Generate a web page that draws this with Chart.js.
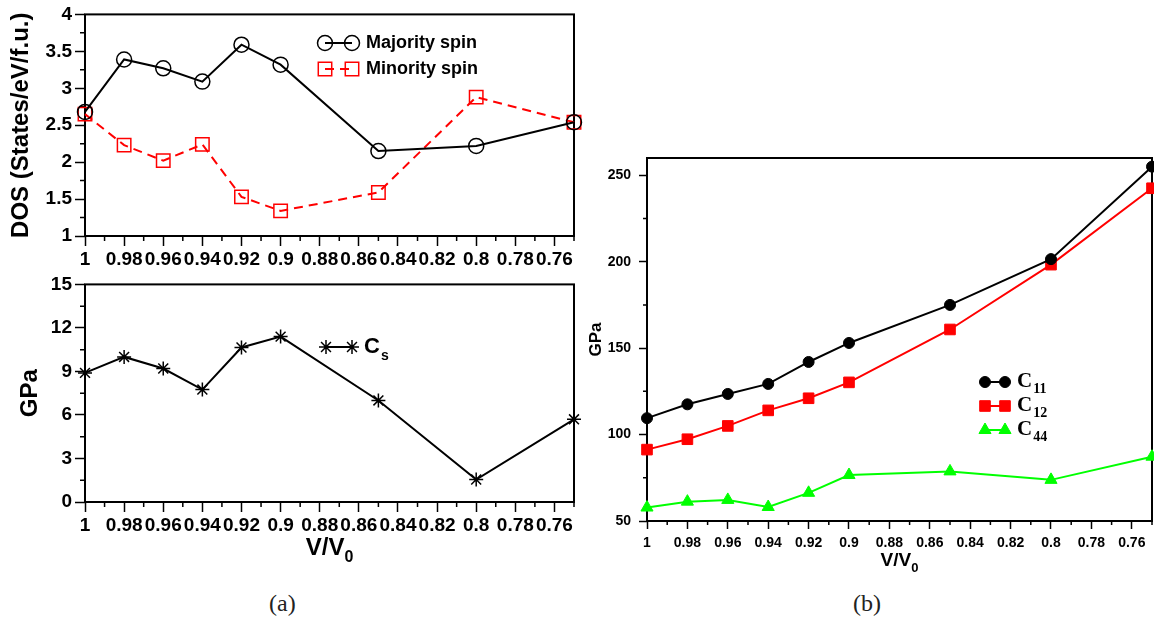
<!DOCTYPE html>
<html>
<head>
<meta charset="utf-8">
<script src="https://cdn.jsdelivr.net/npm/chart.js@4.4.1/dist/chart.umd.min.js"></script>
<style>
  body { margin: 0; background: #fff; width: 1154px; height: 630px; overflow: hidden; position: relative; }
  canvas { position: absolute; display: block; }
  .cap { position: absolute; font-family: 'Liberation Serif', serif; font-size: 24px; color: #222; }
</style>
</head>
<body>
<canvas id="dosChart" width="600" height="270" style="left:0;top:0"></canvas>
<canvas id="csChart" width="600" height="300" style="left:0;top:270px"></canvas>
<canvas id="elasticChart" width="600" height="440" style="left:580px;top:140px"></canvas>
<div class="cap" style="left:269px;top:590px">(a)</div>
<div class="cap" style="left:853px;top:590px">(b)</div>
<script>
// V/V0 values where the calculations were done
const volume = [1, 0.98, 0.96, 0.94, 0.92, 0.90, 0.85, 0.80, 0.75];
const xTicks = [1, 0.98, 0.96, 0.94, 0.92, 0.90, 0.88, 0.86, 0.84, 0.82, 0.80, 0.78, 0.76];

// (a) top: density of states at E_F
const dosMajority = [2.68, 3.39, 3.27, 3.09, 3.59, 3.32, 2.15, 2.22, 2.54];
const dosMinority = [2.65, 2.23, 2.02, 2.24, 1.53, 1.34, 1.59, 2.88, 2.54];
const dosTicks = [1, 1.5, 2, 2.5, 3, 3.5, 4];

// (a) bottom: shear modulus Cs
const shearCs = [8.9, 10.0, 9.2, 7.75, 10.65, 11.4, 7.0, 1.55, 5.7];
const csTicks = [0, 3, 6, 9, 12, 15];

// (b) elastic constants
const c11 = [109.5, 117.5, 123.5, 129.3, 142, 153, 175, 201.5, 255];
const c12 = [91.3, 97.3, 105, 114, 121, 130.2, 160.8, 198.3, 242.5];
const c44 = [57.8, 61.2, 62.2, 58.1, 66.3, 76.6, 78.7, 73.8, 87.2];
const elasticTicks = [50, 100, 150, 200, 250];

Chart.defaults.font.family = "'Liberation Sans', Arial, sans-serif";
Chart.defaults.font.weight = 'bold';
Chart.defaults.color = '#000';
Chart.defaults.animation = false;

const points = ys => volume.map((v, i) => ({ x: v, y: ys[i] }));
const fmt = v => String(Math.round(v * 100) / 100);
const setTicks = values => s => { s.ticks = values.map(v => ({ value: v })); };
const fixedWidth = w => s => { s.width = w; };
// fixed height, and no extra room kept for the end labels
const fixedHeight = h => s => { s.height = h; s.paddingLeft = 0; s.paddingRight = 0; };
// small ticks halfway between the labelled ones
function midpoints(arr) {
    const out = [];
    for (let i = 1; i < arr.length; i++) out.push((arr[i - 1] + arr[i]) / 2);
    return out;
}
const xMinor = midpoints(xTicks).concat([0.77, 0.75]);

// box round the plot + minor ticks
const frameAndMinor = {
    id: 'frameAndMinor',
    beforeDatasetsDraw(chart, args, opts) {
        const { ctx, chartArea: a, scales } = chart;
        ctx.save();
        ctx.strokeStyle = '#000';
        ctx.lineWidth = opts.lineWidth || 2;
        ctx.strokeRect(a.left, a.top, a.right - a.left, a.bottom - a.top);
        ctx.lineWidth = 1.5;
        ctx.beginPath();
        (opts.x || []).forEach(v => {
            const px = scales.x.getPixelForValue(v);
            ctx.moveTo(px, a.bottom); ctx.lineTo(px, a.bottom + opts.len);
        });
        (opts.y || []).forEach(v => {
            const py = scales.y.getPixelForValue(v);
            ctx.moveTo(a.left, py); ctx.lineTo(a.left - opts.len, py);
        });
        ctx.stroke();
        ctx.restore();
    }
};

// legend drawn inside the plot: line with a marker on each end
const lineLegend = {
    id: 'lineLegend',
    afterDraw(chart, args, opts) {
        if (opts.x === undefined) return;
        const ctx = chart.ctx;
        chart.data.datasets.forEach((ds, i) => {
            const y = opts.y + i * opts.dy;
            ctx.save();
            ctx.strokeStyle = ds.borderColor;
            ctx.lineWidth = ds.borderWidth;
            ctx.setLineDash(ds.borderDash || []);
            ctx.beginPath();
            ctx.moveTo(opts.x, y);
            ctx.lineTo(opts.x + opts.w, y);
            ctx.stroke();
            ctx.setLineDash([]);
            ctx.fillStyle = ds.pointBackgroundColor;
            ctx.strokeStyle = ds.pointBorderColor;
            ctx.lineWidth = ds.pointBorderWidth;
            const style = { pointStyle: ds.pointStyle, radius: ds.pointRadius, rotation: 0, borderWidth: ds.pointBorderWidth };
            Chart.helpers.drawPoint(ctx, style, opts.x, y);
            Chart.helpers.drawPoint(ctx, style, opts.x + opts.w, y);
            ctx.fillStyle = '#000';
            ctx.textBaseline = 'middle';
            ctx.font = opts.font;
            const tx = opts.x + opts.w + opts.gap;
            const main = opts.sub ? ds.label.slice(0, 1) : ds.label;
            ctx.fillText(main, tx, y);
            if (opts.sub) {
                const mw = ctx.measureText(main).width;
                ctx.font = opts.subFont;
                ctx.fillText(ds.label.slice(1), tx + mw + 1, y + opts.subDy);
            }
            ctx.restore();
        });
    }
};

// V/V0 axis title with subscript
const xTitle = {
    id: 'xTitle',
    afterDraw(chart, args, opts) {
        if (!opts.text) return;
        const { ctx, chartArea: a } = chart;
        ctx.save();
        ctx.fillStyle = '#000';
        ctx.textBaseline = 'middle';
        ctx.font = opts.font;
        const mw = ctx.measureText(opts.text).width;
        ctx.font = opts.subFont;
        const sw = ctx.measureText(opts.sub).width;
        const x0 = (a.left + a.right) / 2 - (mw + sw) / 2;
        ctx.font = opts.font;
        ctx.fillText(opts.text, x0, opts.y);
        ctx.font = opts.subFont;
        ctx.fillText(opts.sub, x0 + mw, opts.y + opts.subDy);
        ctx.restore();
    }
};

function xScale(opts) {
    return {
        type: 'linear', reverse: true, min: 0.75, max: 1,
        afterBuildTicks: setTicks(xTicks),
        afterFit: fixedHeight(opts.height),
        border: { display: false },
        grid: { drawOnChartArea: false, tickLength: opts.tickLength, tickWidth: 1.5, tickColor: '#000' },
        ticks: { callback: fmt, autoSkip: false, maxRotation: 0, minRotation: 0, padding: opts.padding, font: { size: opts.size } }
    };
}

function yScale(opts) {
    return {
        min: opts.min, max: opts.max,
        afterBuildTicks: setTicks(opts.ticks),
        afterFit: fixedWidth(opts.width),
        border: { display: false },
        grid: { drawOnChartArea: false, tickLength: opts.tickLength, tickWidth: 1.5, tickColor: '#000' },
        ticks: { callback: fmt, autoSkip: false, padding: opts.padding, font: { size: opts.size } },
        title: { display: true, text: opts.title, font: { size: opts.titleSize, weight: 'bold' }, padding: { top: opts.titlePad, bottom: 0 } }
    };
}

const baseOptions = {
    responsive: false,
    animation: false,
    devicePixelRatio: 1,
    events: []
};

new Chart(document.getElementById('dosChart'), {
    type: 'line',
    data: {
        datasets: [
            { label: 'Majority spin', data: points(dosMajority), borderColor: '#000', borderWidth: 2,
              pointStyle: 'circle', pointRadius: 7.5, pointBorderColor: '#000', pointBackgroundColor: 'rgba(0,0,0,0)', pointBorderWidth: 1.5, clip: false },
            { label: 'Minority spin', data: points(dosMinority), borderColor: '#ff0000', borderWidth: 2, borderDash: [9, 6],
              pointStyle: 'rect', pointRadius: 9.5, pointBorderColor: '#ff0000', pointBackgroundColor: 'rgba(0,0,0,0)', pointBorderWidth: 1.5, clip: false }
        ]
    },
    options: {
        ...baseOptions,
        layout: { padding: { left: 0, top: 14, right: 26, bottom: 0 } },
        scales: {
            x: xScale({ height: 34, tickLength: 10, padding: 2, size: 19 }),
            y: yScale({ min: 1, max: 4, ticks: dosTicks, width: 85, tickLength: 10, padding: 3, size: 19,
                        title: 'DOS (States/eV/f.u.)', titleSize: 24, titlePad: 7 })
        },
        plugins: {
            legend: { display: false }, tooltip: { enabled: false },
            frameAndMinor: { x: xMinor, y: midpoints(dosTicks), len: 5 },
            lineLegend: { x: 325, w: 27, y: 43, dy: 26, gap: 14, font: "bold 18px 'Liberation Sans', Arial, sans-serif" }
        }
    },
    plugins: [frameAndMinor, lineLegend]
});

new Chart(document.getElementById('csChart'), {
    type: 'line',
    data: {
        datasets: [
            { label: 'Cs', data: points(shearCs), borderColor: '#000', borderWidth: 2,
              pointStyle: 'star', pointRadius: 7, pointBorderColor: '#000', pointBackgroundColor: '#000', pointBorderWidth: 1.5, clip: false }
        ]
    },
    options: {
        ...baseOptions,
        layout: { padding: { left: 0, top: 10, right: 26, bottom: 0 } },
        scales: {
            x: xScale({ height: 68, tickLength: 10, padding: 2, size: 19 }),
            y: yScale({ min: 0, max: 15, ticks: csTicks, width: 85, tickLength: 10, padding: 3, size: 19,
                        title: 'GPa', titleSize: 24, titlePad: 16 })
        },
        plugins: {
            legend: { display: false }, tooltip: { enabled: false },
            frameAndMinor: { x: xMinor, y: midpoints(csTicks), len: 5 },
            lineLegend: { x: 326, w: 26, y: 77, dy: 0, gap: 12, sub: true, subDy: 9,
                          font: "bold 22px 'Liberation Sans', Arial, sans-serif", subFont: "bold 14px 'Liberation Sans', Arial, sans-serif" },
            xTitle: { text: 'V/V', sub: '0', y: 278, subDy: 10,
                      font: "bold 24px 'Liberation Sans', Arial, sans-serif", subFont: "bold 16px 'Liberation Sans', Arial, sans-serif" }
        }
    },
    plugins: [frameAndMinor, lineLegend, xTitle]
});

// canvas runs past the window edge; the plot box ends at 1152 like the cropped original
new Chart(document.getElementById('elasticChart'), {
    type: 'line',
    data: {
        datasets: [
            { label: 'C11', data: points(c11), borderColor: '#000', borderWidth: 2,
              pointStyle: 'circle', pointRadius: 5.5, pointBorderColor: '#000', pointBackgroundColor: '#000', pointBorderWidth: 1, clip: false },
            { label: 'C12', data: points(c12), borderColor: '#ff0000', borderWidth: 2,
              pointStyle: 'rect', pointRadius: 7.5, pointBorderColor: '#ff0000', pointBackgroundColor: '#ff0000', pointBorderWidth: 1, clip: false },
            { label: 'C44', data: points(c44), borderColor: '#00ff00', borderWidth: 2,
              pointStyle: 'triangle', pointRadius: 7, pointBorderColor: '#00ff00', pointBackgroundColor: '#00ff00', pointBorderWidth: 1, clip: false }
        ]
    },
    options: {
        ...baseOptions,
        layout: { padding: { left: 0, top: 18, right: 28, bottom: 0 } },
        scales: {
            x: xScale({ height: 59, tickLength: 8, padding: 6, size: 14 }),
            y: yScale({ min: 50, max: 260, ticks: elasticTicks, width: 67, tickLength: 8, padding: 8, size: 14,
                        title: 'GPa', titleSize: 17, titlePad: 6 })
        },
        plugins: {
            legend: { display: false }, tooltip: { enabled: false },
            frameAndMinor: { x: xMinor, y: midpoints(elasticTicks), len: 4 },
            lineLegend: { x: 405, w: 20, y: 242, dy: 24, gap: 12, sub: true, subDy: 7,
                          font: "bold 21px 'Liberation Serif', serif", subFont: "bold 14px 'Liberation Serif', serif" },
            xTitle: { text: 'V/V', sub: '0', y: 421, subDy: 7,
                      font: "bold 19px 'Liberation Sans', Arial, sans-serif", subFont: "bold 13px 'Liberation Sans', Arial, sans-serif" }
        }
    },
    plugins: [frameAndMinor, lineLegend, xTitle]
});
</script>
</body>
</html>
